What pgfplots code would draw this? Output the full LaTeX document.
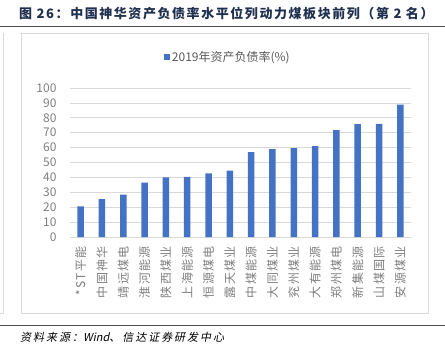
\documentclass[border=0pt]{standalone}
\usepackage{pgfplots}
\pgfplotsset{compat=1.18}
\usepackage{fontspec}
\setmainfont{Noto Sans CJK SC}
\newfontfamily\titlefont[LetterSpace=12]{Noto Sans CJK SC}
\newfontfamily\srcfont[FakeSlant=0.2,LetterSpace=18]{Noto Sans CJK SC}
\newfontfamily\srclat[FakeSlant=0.2]{Noto Sans CJK SC}
\newfontfamily\labfont[LetterSpace=10]{Noto Sans CJK SC}
\definecolor{barblue}{HTML}{4472C4}
\definecolor{gridgray}{HTML}{D9D9D9}
\definecolor{tickgray}{HTML}{7F7F7F}
\definecolor{leggray}{HTML}{595959}
\definecolor{titleblue}{HTML}{203050}
\begin{document}
\begin{tikzpicture}
\useasboundingbox (0pt,0pt) rectangle (445pt,-354pt);
\node[anchor=west, text=titleblue, inner sep=0pt, font=\titlefont\bfseries\fontsize{13}{13}\selectfont] at (19pt,-14pt) {图 26：中国神华资产负债率水平位列动力煤板块前列（第 2 名）};
\draw[line width=1pt, black!70] (0pt,-26pt) -- (445pt,-26pt);
\draw[gridgray, line width=0.8pt] (21pt,-33pt) rectangle (428pt,-313pt);
\draw[gridgray, line width=0.8pt] (3pt,-33pt) -- (3pt,-313pt) -- (0pt,-313pt);
\draw[line width=0.8pt, black!70] (0pt,-325pt) -- (445pt,-325pt);
\node[anchor=west, inner sep=0pt, font=\srcfont\fontsize{11}{11}\selectfont] at (20pt,-337pt) {资料来源：{\srclat Wind}、信达证券研发中心};
\begin{axis}[
  at={(70pt,-237pt)}, anchor=south west,
  width=341pt, height=149pt, scale only axis,
  ybar, bar width=6.5pt,
  xmin=-0.5, xmax=15.5, ymin=0, ymax=100,
  ytick={0,10,...,100},
  xtick={0,...,15},
  xticklabels={*ST平能,中国神华,靖远煤电,淮河能源,陕西煤业,上海能源,恒源煤电,露天煤业,中煤能源,大同煤业,兖州煤业,大有能源,郑州煤电,新集能源,山煤国际,安源煤业},
  /pgf/number format/assume math mode=true,
  major tick length=0pt,
  ymajorgrids, grid style={gridgray, line width=0.8pt},
  axis lines*=left,
  y axis line style={draw=none},
  x axis line style={gridgray, line width=0.8pt},
  yticklabel style={font=\fontsize{12}{12}\selectfont, text=tickgray, xshift=-10pt},
  xticklabel style={rotate=90, anchor=east, font=\labfont\fontsize{12}{12}\selectfont, text=tickgray, xshift=-6pt},
  legend style={draw=none, fill=none, at={(0.463,1.208)}, anchor=center, font=\fontsize{12}{12}\selectfont, text=leggray},
  legend image code/.code={\fill[barblue] (0pt,-3pt) rectangle (6pt,3pt);},
]
\addplot[fill=barblue, draw=none] coordinates {
(0,20.5) (1,25.5) (2,28.5) (3,36.5) (4,40.0) (5,40.3) (6,42.7) (7,44.5)
(8,57.0) (9,59.0) (10,59.7) (11,61.0) (12,71.7) (13,75.7) (14,76.0) (15,88.8)};
\addlegendentry{2019年资产负债率(\%)}
\end{axis}
\end{tikzpicture}
\end{document}
